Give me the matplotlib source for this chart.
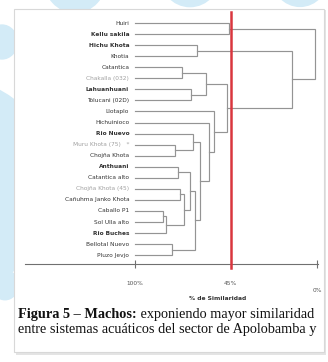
import numpy as np
import matplotlib
matplotlib.use('Agg')
import matplotlib.pyplot as plt
from matplotlib.patches import Circle, Rectangle
from matplotlib.text import Annotation

# sitios (hojas del dendrograma, de arriba hacia abajo)
sites = [
    'Huiri', 'Kellu sakila', 'Hichu Khota', 'Khotia', 'Catantica',
    'Chakalla (032)', 'Lahuanhuani', 'Tolucani (02D)', 'Llotaplo',
    'Hichuinioco', 'Rio Nuevo', 'Muru Khota (75)   *', 'Chojña Khota',
    'Anthuani', 'Catantica alto', 'Chojña Khota (45)', 'Cañuhma Janko Khota',
    'Caballo P1', 'Sol Ulla alto', 'Rio Buches', 'Bellotal Nuevo', 'Pluzo Jevjo',
]
bold_sites = ['Kellu sakila', 'Hichu Khota', 'Lahuanhuani', 'Rio Nuevo',
              'Anthuani', 'Rio Buches']
light_sites = ['Muru Khota (75)   *', 'Chojña Khota (45)', 'Chakalla (032)']

# uniones (estilo linkage): hijo izquierdo, hijo derecho, % de similaridad
merge_left = [0, 2, 4, 6, 24, 11, 10, 13, 15, 17, 31, 30, 29, 20, 34, 28, 9, 8, 26, 23, 22]
merge_right = [1, 3, 5, 7, 25, 12, 27, 14, 16, 18, 19, 32, 33, 21, 35, 36, 37, 38, 39, 40, 41]
merge_sim = [46.1, 64.5, 73.1, 67.9, 59.3, 77.1, 66.8, 75.4, 74.2, 84.0, 82.2,
             71.9, 68.5, 78.8, 65.6, 62.8, 57.6, 54.7, 47.3, 13.4, 1.0]

tick_values = [100, 45, 0]
tick_labels = ['100%', '45%', '0%']
cut_value = 45

W, H = 328, 362


def fx(px):
    return px / W


def fy(py):
    return 1 - py / H


# escala por tramos del eje de similaridad (creciente en s)
_sim_pts = [-100, 0, 45, 100, 300]
_pos_pts = [-376.3, -183.0, -96.0, 0.0, 349.0]


def sim_forward(s):
    return np.interp(np.asarray(s, dtype=float), _sim_pts, _pos_pts)


def sim_inverse(p):
    return np.interp(np.asarray(p, dtype=float), _pos_pts, _sim_pts)


fig = plt.figure(figsize=(W / 100, H / 100), dpi=100)
fig.patch.set_facecolor('white')

# fondo decorativo y tarjeta
blue = '#d3ebf7'
for cx, cy, r in [(-40, 185, 95), (2, 42, 16), (75, -22, 32),
                  (190, -28, 32), (300, -26, 30), (5, 285, 14)]:
    fig.patches.append(Circle((fx(cx), fy(cy)), r / W, transform=fig.transFigure,
                              facecolor=blue, edgecolor='none', zorder=-3))
fig.patches.append(Rectangle((fx(16), fy(355)), (326 - 16) / W, (355 - 10) / H,
                             transform=fig.transFigure, facecolor='#e4e4e4',
                             edgecolor='none', zorder=-2))
fig.patches.append(Rectangle((fx(14), fy(352)), (324 - 14) / W, (352 - 9) / H,
                             transform=fig.transFigure, facecolor='white',
                             edgecolor='#d8d8d8', linewidth=0.8, zorder=-1))

ax = fig.add_axes([fx(25), fy(264), (318 - 25) / W, (264 - 12) / H])
ax.set_facecolor('none')
ax.set_xscale('function', functions=(sim_forward, sim_inverse))

n = len(sites)
ypos = {i: float(i) for i in range(n)}
xpos = {i: 100.0 for i in range(n)}

line_color = '#949494'
for k, (a, b, s) in enumerate(zip(merge_left, merge_right, merge_sim)):
    node = n + k
    ya, yb = ypos[a], ypos[b]
    ax.plot([xpos[a], s, s, xpos[b]], [ya, ya, yb, yb],
            color=line_color, linewidth=0.85, solid_joinstyle='miter')
    ypos[node] = (ya + yb) / 2
    xpos[node] = s

for i, name in enumerate(sites):
    weight = 'bold' if name in bold_sites else 'normal'
    color = '#a0a0a0' if name in light_sites else '#333333'
    ax.annotate(name, (100, i), xytext=(-4, 0), textcoords='offset points',
                ha='right', va='center', fontsize=4.2, fontweight=weight,
                color=color)

ax.axvline(cut_value, ymin=-0.014, ymax=1, color='#d9363e', linewidth=1.8,
           zorder=5, clip_on=False)

ax.set_xlim(163, -0.3)
ax.set_ylim(n - 0.2, -1.0)
for side in ['top', 'right', 'left']:
    ax.spines[side].set_visible(False)
ax.spines['bottom'].set_color('#707070')
ax.spines['bottom'].set_linewidth(0.8)
ax.set_yticks([])
ax.set_xticks(tick_values)
ax.set_xticklabels(tick_labels)
ax.tick_params(axis='x', direction='inout', length=6, width=0.8,
               color='#707070', labelsize=4.2, labelcolor='#555555', pad=9)
ax.get_xticklabels()[-1].set_y(-0.03)

fig.text(fx(218), fy(298), '% de Similaridad', ha='center', va='center',
         fontsize=4.3, fontweight='bold', color='#333333')

# pie de figura
serif = ['Liberation Serif', 'DejaVu Serif']
cap_size = 10.3
t1 = fig.text(fx(18), fy(318), 'Figura 5 – Machos:', ha='left', va='baseline',
              fontsize=cap_size, fontweight='bold', family=serif, color='#111111')
fig.add_artist(Annotation(
    ' exponiendo mayor similaridad', xy=(1, 0), xycoords=t1, va='bottom',
    ha='left', fontsize=cap_size, family=serif, color='#111111'))
fig.text(fx(18), fy(333), 'entre sistemas acuáticos del sector de Apolobamba y',
         ha='left', va='baseline', fontsize=cap_size, family=serif, color='#111111')

fig.savefig('out.png', dpi=100)
